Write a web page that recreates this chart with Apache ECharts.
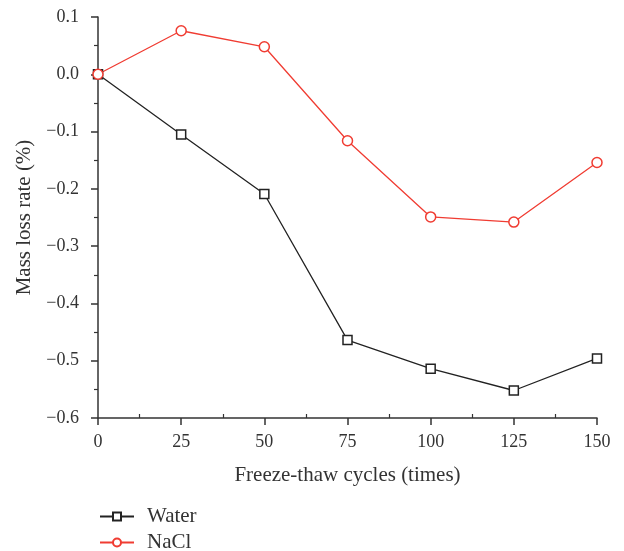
<!DOCTYPE html>
<html>
<head>
<meta charset="utf-8">
<script src="https://cdn.jsdelivr.net/npm/echarts@6/dist/echarts.min.js"></script>
<style>
  html, body { margin: 0; padding: 0; background: #fff; }
  #chart { width: 624px; height: 551px; }
</style>
</head>
<body>
<div id="chart"></div>
<script>
// Freeze-thaw cycle counts
const cycles = [0, 25, 50, 75, 100, 125, 150];
// Mass loss rate (%) per medium
const waterLoss = [0, -0.105, -0.209, -0.464, -0.514, -0.552, -0.496];
const naclLoss = [0, 0.076, 0.048, -0.116, -0.249, -0.258, -0.154];

const FONT = '"Liberation Serif", "DejaVu Serif", serif';
const INK = '#333';
const RED = '#f03c32';

const toPairs = (vals) => cycles.map((c, i) => [c, vals[i]]);

const legendBase = {
  orient: 'vertical',
  left: 99,
  padding: 0,
  itemWidth: 34,
  itemHeight: 10,
  textStyle: { fontFamily: FONT, fontSize: 21, color: INK, padding: [0, 0, 0, 8] }
};

const chart = echarts.init(document.getElementById('chart'));
chart.setOption({
  animation: false,
  backgroundColor: '#fff',
  textStyle: { fontFamily: FONT },
  grid: { left: 98, right: 27, top: 17, height: 401, containLabel: false },
  xAxis: {
    type: 'value',
    min: 0, max: 150, interval: 25,
    name: 'Freeze-thaw cycles (times)',
    nameLocation: 'middle',
    nameGap: 47,
    nameTextStyle: { fontFamily: FONT, fontSize: 21, color: INK },
    axisLine: { show: true, onZero: false, lineStyle: { color: INK, width: 1.5 } },
    axisTick: { show: true, inside: false, length: 7, lineStyle: { color: INK, width: 1.5 } },
    minorTick: { show: true, splitNumber: 2, length: -4, lineStyle: { color: INK, width: 1.2 } },
    axisLabel: { fontFamily: FONT, fontSize: 18, color: INK, margin: 15 },
    splitLine: { show: false }
  },
  yAxis: {
    type: 'value',
    min: -0.6, max: 0.1, interval: 0.1,
    name: 'Mass loss rate (%)',
    nameLocation: 'middle',
    nameGap: 62,
    nameRotate: 90,
    nameTextStyle: { fontFamily: FONT, fontSize: 21, color: INK },
    axisLine: { show: true, onZero: false, lineStyle: { color: INK, width: 1.5 } },
    axisTick: { show: true, inside: false, length: 7, lineStyle: { color: INK, width: 1.5 } },
    minorTick: { show: true, splitNumber: 2, length: 4, lineStyle: { color: INK, width: 1.2 } },
    axisLabel: {
      fontFamily: FONT, fontSize: 18, color: INK, margin: 19,
      formatter: (v) => v.toFixed(1).replace('-', '\u2212')
    },
    splitLine: { show: false }
  },
  legend: [
    Object.assign({}, legendBase, { top: 506, data: ['Water'] }),
    Object.assign({}, legendBase, { top: 532, data: ['NaCl'] })
  ],
  series: [
    {
      name: 'Water',
      type: 'line',
      data: toPairs(waterLoss),
      symbol: 'rect',
      symbolSize: 9,
      lineStyle: { color: '#222', width: 1.3 },
      itemStyle: { color: '#fff', borderColor: '#222', borderWidth: 1.5 }
    },
    {
      name: 'NaCl',
      type: 'line',
      data: toPairs(naclLoss),
      symbol: 'circle',
      symbolSize: 10,
      lineStyle: { color: RED, width: 1.3 },
      itemStyle: { color: '#fff', borderColor: RED, borderWidth: 1.5 }
    }
  ]
});
</script>
</body>
</html>
